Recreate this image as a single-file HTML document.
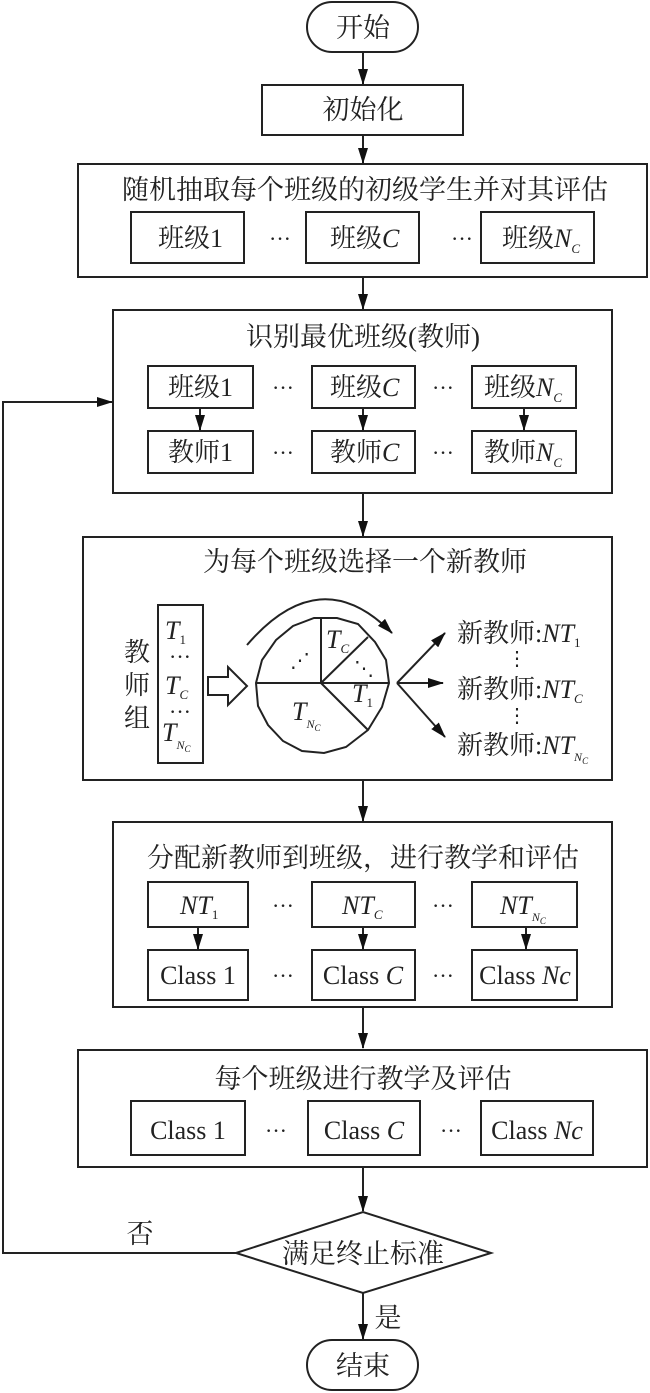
<!DOCTYPE html>
<html><head><meta charset="utf-8"><style>
html,body{margin:0;padding:0;background:#fff;}
svg{display:block;}
text{font-family:"Liberation Serif","Noto Serif CJK SC","Noto Sans CJK SC",serif;fill:#222;}
.i{font-style:italic;}
</style></head><body>
<svg width="650" height="1393" viewBox="0 0 650 1393" xmlns="http://www.w3.org/2000/svg">
<defs>
<marker id="b" markerWidth="16" markerHeight="10" refX="15" refY="5" orient="auto" markerUnits="userSpaceOnUse">
<path d="M0,0 L16,5 L0,10 Z" fill="#111"/>
</marker>
</defs>
<g stroke="#222" stroke-width="2" fill="none">
<rect x="307" y="2" width="111" height="50" rx="25"/>
<line x1="363" y1="52" x2="363" y2="84" marker-end="url(#b)"/>
<rect x="262" y="85" width="201" height="50"/>
<line x1="363" y1="135" x2="363" y2="163" marker-end="url(#b)"/>
<rect x="78" y="164" width="569" height="113"/>
<rect x="131" y="212" width="113" height="51"/>
<rect x="306" y="212" width="113" height="51"/>
<rect x="481" y="212" width="113" height="51"/>
<line x1="363" y1="277" x2="363" y2="309" marker-end="url(#b)"/>
<rect x="113" y="310" width="499" height="183"/>
<rect x="148" y="366" width="105" height="42"/>
<rect x="312" y="366" width="103" height="42"/>
<rect x="472" y="366" width="104" height="42"/>
<rect x="148" y="431" width="105" height="42"/>
<rect x="312" y="431" width="103" height="42"/>
<rect x="472" y="431" width="104" height="42"/>
<line x1="200" y1="408" x2="200" y2="430" marker-end="url(#b)"/>
<line x1="363" y1="408" x2="363" y2="430" marker-end="url(#b)"/>
<line x1="524" y1="408" x2="524" y2="430" marker-end="url(#b)"/>
<line x1="363" y1="493" x2="363" y2="536" marker-end="url(#b)"/>
<rect x="83" y="537" width="529" height="243"/>
<rect x="158" y="605" width="45" height="158"/>
<path d="M208,677 L228,677 L228,667 L247,686 L228,705 L228,695 L208,695 Z"/>
<polygon points="389,683 386,660 375,642 358,624 337,618 314,618 293,626 276,640 262,660 256,683 258,706 268,725 283,741 302,751 324,753 346,747 368,730 382,707"/>
<line x1="256" y1="683" x2="389" y2="683"/>
<line x1="321" y1="683" x2="321" y2="618"/>
<line x1="321" y1="683" x2="368" y2="637"/>
<line x1="321" y1="683" x2="368" y2="730"/>
<path d="M247,645 Q320,560 392,633" marker-end="url(#b)"/>
<line x1="397" y1="683" x2="445" y2="633" marker-end="url(#b)"/>
<line x1="397" y1="683" x2="443" y2="683" marker-end="url(#b)"/>
<line x1="397" y1="683" x2="445" y2="737" marker-end="url(#b)"/>
<line x1="363" y1="780" x2="363" y2="821" marker-end="url(#b)"/>
<rect x="113" y="822" width="499" height="185"/>
<rect x="148" y="882" width="100" height="45"/>
<rect x="312" y="882" width="103" height="45"/>
<rect x="472" y="882" width="105" height="45"/>
<rect x="148" y="950" width="100" height="50"/>
<rect x="312" y="950" width="103" height="50"/>
<rect x="472" y="950" width="105" height="50"/>
<line x1="198" y1="927" x2="198" y2="949" marker-end="url(#b)"/>
<line x1="363" y1="927" x2="363" y2="949" marker-end="url(#b)"/>
<line x1="526" y1="927" x2="526" y2="949" marker-end="url(#b)"/>
<line x1="363" y1="1007" x2="363" y2="1048" marker-end="url(#b)"/>
<rect x="78" y="1050" width="569" height="117"/>
<rect x="131" y="1101" width="114" height="54"/>
<rect x="308" y="1101" width="112" height="54"/>
<rect x="481" y="1101" width="112" height="54"/>
<line x1="363" y1="1167" x2="363" y2="1211" marker-end="url(#b)"/>
<polygon points="236,1253 363,1212 491,1253 363,1293"/>
<polyline points="236,1253 3,1253 3,402 112,402" marker-end="url(#b)"/>
<line x1="363" y1="1293" x2="363" y2="1339" marker-end="url(#b)"/>
<rect x="307" y="1340" width="111" height="50" rx="25"/>
</g>

<g font-size="27" text-anchor="middle">
<text x="363" y="37">开始</text>
<text x="363" y="119">初始化</text>
<text x="365" y="199">随机抽取每个班级的初级学生并对其评估</text>
<text x="363" y="346">识别最优班级(教师)</text>
<text x="365" y="571">为每个班级选择一个新教师</text>
<text x="363" y="867">分配新教师到班级，进行教学和评估</text>
<text x="363" y="1088">每个班级进行教学及评估</text>
<text x="363" y="1263">满足终止标准</text>
<text x="363" y="1375">结束</text>
<text x="140" y="1243">否</text>
<text x="388" y="1327">是</text>
</g>

<g font-size="26">
<text x="158" y="247">班级1</text>
<text x="280" y="246" text-anchor="middle" font-size="22">···</text>
<text x="330" y="247">班级<tspan class="i">C</tspan></text>
<text x="462" y="246" text-anchor="middle" font-size="22">···</text>
<text x="502" y="247">班级<tspan class="i">N</tspan><tspan class="i" font-size="13" dy="6">C</tspan></text>
<text x="168" y="396">班级1</text>
<text x="283" y="395" text-anchor="middle" font-size="22">···</text>
<text x="330" y="396">班级<tspan class="i">C</tspan></text>
<text x="443" y="395" text-anchor="middle" font-size="22">···</text>
<text x="484" y="396">班级<tspan class="i">N</tspan><tspan class="i" font-size="13" dy="6">C</tspan></text>
<text x="168" y="461">教师1</text>
<text x="283" y="460" text-anchor="middle" font-size="22">···</text>
<text x="330" y="461">教师<tspan class="i">C</tspan></text>
<text x="443" y="460" text-anchor="middle" font-size="22">···</text>
<text x="484" y="461">教师<tspan class="i">N</tspan><tspan class="i" font-size="13" dy="6">C</tspan></text>
<text x="137" y="661" text-anchor="middle">教</text>
<text x="137" y="694" text-anchor="middle">师</text>
<text x="137" y="727" text-anchor="middle">组</text>
<text x="165" y="639" class="i">T<tspan font-size="13" dy="5" font-style="normal">1</tspan></text>
<text x="180" y="664" text-anchor="middle" font-size="22">···</text>
<text x="165" y="694" class="i">T<tspan font-size="13" dy="5">C</tspan></text>
<text x="180" y="719" text-anchor="middle" font-size="22">···</text>
<text x="162" y="741" class="i">T<tspan font-size="12" dy="8">N</tspan><tspan font-size="9" dy="3">C</tspan></text>
<text x="326" y="648" class="i">T<tspan font-size="13" dy="5">C</tspan></text>
<text x="290" y="667" font-size="20">⋰</text>
<text x="354" y="675" font-size="20">⋱</text>
<text x="352" y="702" class="i">T<tspan font-size="13" dy="5" font-style="normal">1</tspan></text>
<text x="292" y="720" class="i">T<tspan font-size="12" dy="8">N</tspan><tspan font-size="9" dy="3">C</tspan></text>
<text x="457" y="642">新教师:<tspan class="i">NT</tspan><tspan font-size="13" dy="5">1</tspan></text>
<text x="517" y="665" text-anchor="middle" font-size="20">⋮</text>
<text x="457" y="698">新教师:<tspan class="i">NT</tspan><tspan class="i" font-size="13" dy="5">C</tspan></text>
<text x="517" y="722" text-anchor="middle" font-size="20">⋮</text>
<text x="457" y="754">新教师:<tspan class="i">NT</tspan><tspan class="i" font-size="12" dy="7">N</tspan><tspan class="i" font-size="9" dy="3">C</tspan></text>
<text x="180" y="914" class="i">NT<tspan font-size="13" dy="5" font-style="normal">1</tspan></text>
<text x="283" y="913" text-anchor="middle" font-size="22">···</text>
<text x="342" y="914" class="i">NT<tspan font-size="13" dy="5">C</tspan></text>
<text x="443" y="913" text-anchor="middle" font-size="22">···</text>
<text x="500" y="914" class="i">NT<tspan font-size="12" dy="7">N</tspan><tspan font-size="9" dy="3">C</tspan></text>
<text x="198" y="984" text-anchor="middle">Class 1</text>
<text x="283" y="983" text-anchor="middle" font-size="22">···</text>
<text x="363" y="984" text-anchor="middle">Class <tspan class="i">C</tspan></text>
<text x="443" y="983" text-anchor="middle" font-size="22">···</text>
<text x="525" y="984" text-anchor="middle">Class <tspan class="i">Nc</tspan></text>
<text x="188" y="1139" text-anchor="middle">Class 1</text>
<text x="276" y="1138" text-anchor="middle" font-size="22">···</text>
<text x="364" y="1139" text-anchor="middle">Class <tspan class="i">C</tspan></text>
<text x="451" y="1138" text-anchor="middle" font-size="22">···</text>
<text x="537" y="1139" text-anchor="middle">Class <tspan class="i">Nc</tspan></text>
</g>
</svg>
</body></html>
